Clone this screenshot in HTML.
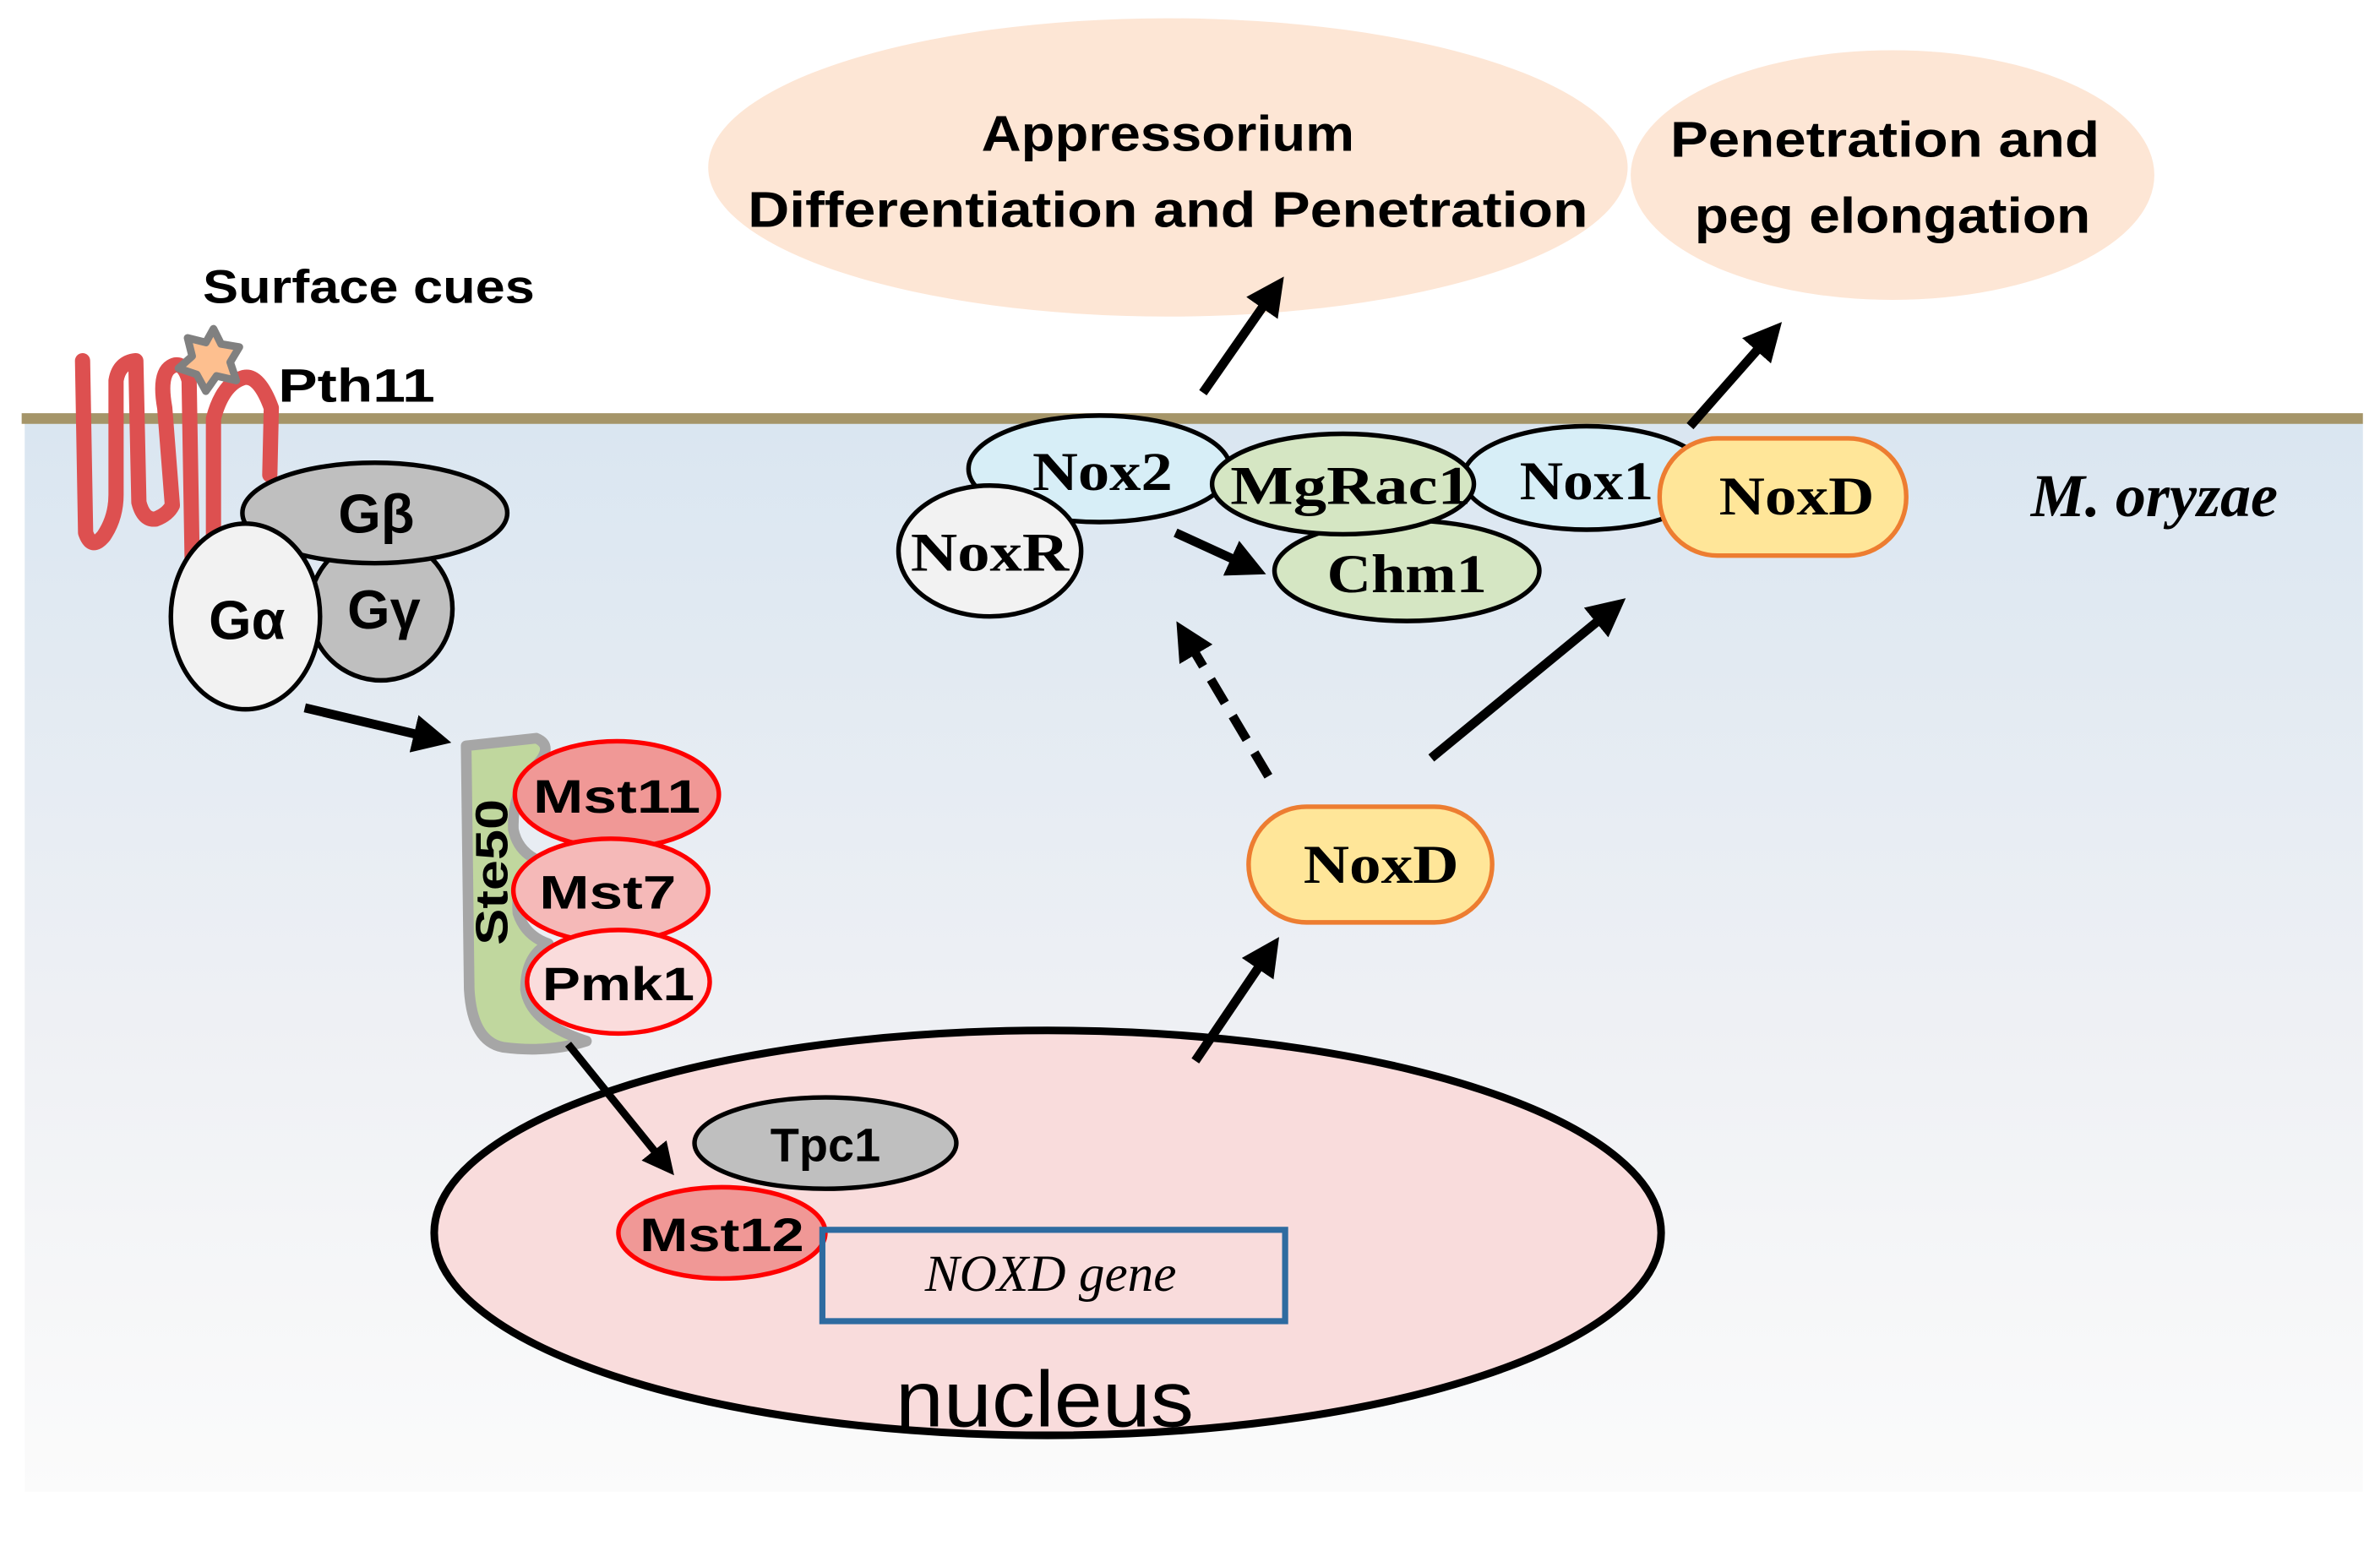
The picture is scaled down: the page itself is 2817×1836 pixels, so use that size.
<!DOCTYPE html>
<html><head><meta charset="utf-8"><style>html,body{margin:0;padding:0;background:#fff}svg{display:block}</style></head>
<body>
<svg width="2817" height="1836" viewBox="0 0 1563 1019" xmlns="http://www.w3.org/2000/svg">
<defs>
<linearGradient id="bg" x1="0" y1="0" x2="0" y2="1">
<stop offset="0" stop-color="#dae6f1"/><stop offset="0.55" stop-color="#eef0f4"/><stop offset="1" stop-color="#fbfbfb"/>
</linearGradient>
<marker id="ah" viewBox="0 0 10 10" refX="5" refY="5" markerWidth="4.2" markerHeight="4.2" orient="auto">
<path d="M0,0 L10,5 L0,10 z" fill="#000"/></marker>
</defs>
<rect x="16" y="278" width="1536" height="702" fill="url(#bg)"/>
<line x1="14" y1="275" x2="1552" y2="275" stroke="#a59569" stroke-width="7"/>

<g font-family="'Liberation Sans',sans-serif" font-weight="bold" text-anchor="middle" fill="#000">
<ellipse cx="767" cy="110" rx="302" ry="98" fill="#fde6d5"/>
<text x="767" y="99" font-size="33" textLength="245" lengthAdjust="spacingAndGlyphs">Appressorium</text>
<text x="767" y="149" font-size="33" textLength="552" lengthAdjust="spacingAndGlyphs">Differentiation and Penetration</text>
<ellipse cx="1243" cy="115" rx="172" ry="82" fill="#fde6d5"/>
<text x="1238" y="103" font-size="33" textLength="282" lengthAdjust="spacingAndGlyphs">Penetration and</text>
<text x="1243" y="153" font-size="33" textLength="260" lengthAdjust="spacingAndGlyphs">peg elongation</text>
<text x="242" y="199" font-size="31" textLength="218" lengthAdjust="spacingAndGlyphs">Surface cues</text>
<text x="234" y="264" font-size="31" textLength="103" lengthAdjust="spacingAndGlyphs">Pth11</text>
</g>

<!-- receptor -->
<path d="M54,237 L56,350 Q60,362 68,352 Q76,340 76,325 L76,250 Q78,238 89,237 L91,330 Q94,342 102,341 Q110,338 113,332 L108,268 Q104,246 112,241 Q120,236 124,250 L126,368 M140,351 L140,275 Q146,252 160,248 Q170,246 178,268 L177,312" fill="none" stroke="#dd5050" stroke-width="10" stroke-linecap="round" stroke-linejoin="round"/>
<polygon points="140,216 145,226 157,228 151,238 155,250 142,247 135,257 129,246 117,242 126,234 123,222 135,225" fill="#fdbf8f" stroke="#808080" stroke-width="5" stroke-linejoin="round"/>

<g font-family="'Liberation Sans',sans-serif" font-weight="bold" text-anchor="middle" font-size="36">
<ellipse cx="250" cy="400" rx="47" ry="47" fill="#bfbfbf" stroke="#000" stroke-width="3"/>
<ellipse cx="246" cy="337" rx="87" ry="33" fill="#bfbfbf" stroke="#000" stroke-width="3"/>
<ellipse cx="161" cy="405" rx="49" ry="61" fill="#f2f2f2" stroke="#000" stroke-width="3"/>
<text x="247" y="350">Gβ</text>
<text x="252" y="413">Gγ</text>
<text x="162" y="420">Gα</text>
</g>
<line x1="200" y1="465" x2="284" y2="485" stroke="#000" stroke-width="6" marker-end="url(#ah)"/>

<!-- Ste50 -->
<path d="M306,490 L352,485 Q364,490 352,503 Q336,520 337,545 Q340,560 355,566 Q338,575 340,600 Q345,615 360,620 Q345,628 345,650 Q348,672 385,684 Q360,692 330,688 Q310,684 308,650 Z" fill="#c0d79e" stroke="#a6a6a6" stroke-width="7" stroke-linejoin="round"/>
<text transform="translate(333,573) rotate(-90)" text-anchor="middle" font-family="'Liberation Sans',sans-serif" font-weight="bold" font-size="30" textLength="96" lengthAdjust="spacingAndGlyphs">Ste50</text>
<g font-family="'Liberation Sans',sans-serif" font-weight="bold" text-anchor="middle" font-size="31">
<ellipse cx="405" cy="522" rx="67" ry="35" fill="#f09896" stroke="#f00" stroke-width="3"/>
<ellipse cx="401" cy="585" rx="64" ry="34" fill="#f5b9b8" stroke="#f00" stroke-width="3"/>
<ellipse cx="406" cy="645" rx="60" ry="34" fill="#fadcdc" stroke="#f00" stroke-width="3"/>
<text x="405" y="534" textLength="110" lengthAdjust="spacingAndGlyphs">Mst11</text>
<text x="399" y="597" textLength="90" lengthAdjust="spacingAndGlyphs">Mst7</text>
<text x="406" y="657" textLength="100" lengthAdjust="spacingAndGlyphs">Pmk1</text>
</g>

<!-- nucleus -->
<ellipse cx="688" cy="810" rx="403" ry="133" fill="#f9dcdc" stroke="#000" stroke-width="5"/>
<line x1="373" y1="686" x2="436" y2="764" stroke="#000" stroke-width="5" marker-end="url(#ah)"/>
<g font-family="'Liberation Sans',sans-serif" font-weight="bold" text-anchor="middle" font-size="31">
<ellipse cx="542" cy="751" rx="86" ry="30" fill="#bfbfbf" stroke="#000" stroke-width="3"/>
<text x="542" y="763">Tpc1</text>
<ellipse cx="474" cy="810" rx="68" ry="30" fill="#f09896" stroke="#f00" stroke-width="3"/>
<text x="474" y="822" textLength="108" lengthAdjust="spacingAndGlyphs">Mst12</text>
</g>
<rect x="540" y="808" width="304" height="60" fill="none" stroke="#2e6ba0" stroke-width="4"/>
<text x="690" y="848" text-anchor="middle" font-family="'Liberation Serif',serif" font-style="italic" font-size="34">NOXD gene</text>
<text x="686" y="937" text-anchor="middle" font-family="'Liberation Sans',sans-serif" font-size="52" textLength="196" lengthAdjust="spacingAndGlyphs">nucleus</text>

<!-- arrows -->
<line x1="785" y1="697" x2="833" y2="626" stroke="#000" stroke-width="6" marker-end="url(#ah)"/>
<line x1="833" y1="510" x2="779" y2="419" stroke="#000" stroke-width="6" stroke-dasharray="18,10" marker-end="url(#ah)"/>
<line x1="940" y1="498" x2="1058" y2="401" stroke="#000" stroke-width="6" marker-end="url(#ah)"/>
<line x1="790" y1="258" x2="836" y2="192" stroke="#000" stroke-width="6" marker-end="url(#ah)"/>
<line x1="1110" y1="280" x2="1162" y2="221" stroke="#000" stroke-width="6" marker-end="url(#ah)"/>

<g font-family="'Liberation Serif',serif" font-weight="bold" text-anchor="middle" font-size="36">
<rect x="820" y="530" width="160" height="76" rx="38" fill="#ffe699" stroke="#ed7d31" stroke-width="3"/>
<text x="907" y="580" textLength="102" lengthAdjust="spacingAndGlyphs">NoxD</text>
<ellipse cx="722" cy="308" rx="86" ry="35" fill="#d7eef7" stroke="#000" stroke-width="3"/>
<ellipse cx="650" cy="362" rx="60" ry="43" fill="#f2f2f2" stroke="#000" stroke-width="3"/>
<ellipse cx="1042" cy="314" rx="81" ry="34" fill="#d7eef7" stroke="#000" stroke-width="3"/>
<ellipse cx="924" cy="375" rx="87" ry="33" fill="#d5e6c3" stroke="#000" stroke-width="3"/>
<ellipse cx="882" cy="318" rx="86" ry="33" fill="#d5e6c3" stroke="#000" stroke-width="3"/>
<rect x="1090" y="288" width="162" height="77" rx="38" fill="#ffe699" stroke="#ed7d31" stroke-width="3"/>
<text x="724" y="322" textLength="92" lengthAdjust="spacingAndGlyphs">Nox2</text>
<text x="650" y="375" textLength="104" lengthAdjust="spacingAndGlyphs">NoxR</text>
<text x="887" y="331" textLength="158" lengthAdjust="spacingAndGlyphs">MgRac1</text>
<text x="924" y="389" textLength="105" lengthAdjust="spacingAndGlyphs">Chm1</text>
<text x="1042" y="328" textLength="88" lengthAdjust="spacingAndGlyphs">Nox1</text>
<text x="1180" y="338" textLength="102" lengthAdjust="spacingAndGlyphs">NoxD</text>
</g>
<line x1="772" y1="350" x2="820" y2="372" stroke="#000" stroke-width="6" marker-end="url(#ah)"/>
<text x="1415" y="339" text-anchor="middle" font-family="'Liberation Serif',serif" font-weight="bold" font-style="italic" font-size="40">M. oryzae</text>
</svg>
</body></html>
